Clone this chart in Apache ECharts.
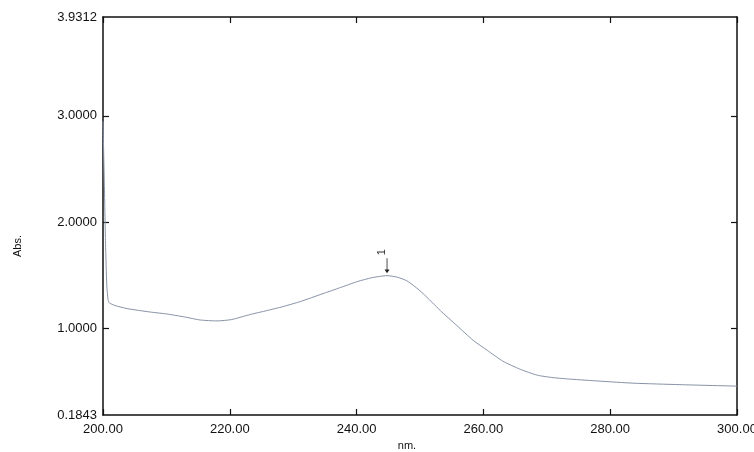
<!DOCTYPE html>
<html>
<head>
<meta charset="utf-8">
<script src="https://cdn.jsdelivr.net/npm/echarts@6/dist/echarts.min.js"></script>
<style>html,body{margin:0;padding:0;background:#fff}#c{width:754px;height:452px}</style>
</head>
<body>
<div id="c"></div>
<script>
const wavelengths = [200.0,200.2,200.4,200.6,200.8,201.0,201.9,203.8,207.4,210.1,212.9,215.3,218.0,220.3,223.2,225.9,228.4,231.1,234.7,237.4,240.1,242.4,244.8,246.4,247.9,249.2,250.5,253.2,255.8,258.4,260.6,263.1,265.8,268.5,271.0,273.7,278.4,283.6,291.0,300.0];
const absorbance = [2.95,2.40,1.80,1.40,1.27,1.24,1.215,1.186,1.154,1.135,1.107,1.079,1.070,1.083,1.130,1.168,1.205,1.252,1.327,1.383,1.440,1.477,1.496,1.482,1.449,1.393,1.327,1.168,1.027,0.887,0.793,0.690,0.615,0.559,0.536,0.522,0.503,0.484,0.470,0.456];
const yTickLabels = [0.1843, 1.0, 2.0, 3.0, 3.9312];
const yTicks = [1.0, 2.0, 3.0];
const peakLabel = '1';
const peakIndex = 22;

const chart = echarts.init(document.getElementById('c'));
const font = 'Liberation Sans, Arial, sans-serif';
const axisLine = {show: true, onZero: false, lineStyle: {color: '#111', width: 1.5}};
chart.setOption({
  animation: false,
  backgroundColor: '#fff',
  grid: {left: 103, right: 17, top: 17, bottom: 37, containLabel: false, outerBoundsMode: 'none'},
  xAxis: [{
    type: 'value', min: 200, max: 300, interval: 20,
    axisLine: axisLine,
    axisTick: {show: true, inside: true, length: 6, lineStyle: {color: '#111', width: 1.2}},
    axisLabel: {color: '#111', fontSize: 13, fontFamily: font, margin: 8, formatter: v => v.toFixed(2)},
    splitLine: {show: false},
    name: 'nm.', nameLocation: 'middle', nameGap: 25,
    nameTextStyle: {color: '#111', fontSize: 11, fontFamily: font, padding: [0, 26, 0, 0]}
  }, {
    type: 'value', position: 'top', min: 200, max: 300, interval: 20,
    axisLine: axisLine,
    axisTick: {show: true, inside: true, length: 6, lineStyle: {color: '#111', width: 1.2}},
    axisLabel: {show: false}, splitLine: {show: false}
  }],
  yAxis: [{
    type: 'value', min: 0.1843, max: 3.9312,
    axisLine: axisLine,
    axisTick: {show: true, inside: true, length: 6, customValues: yTicks, lineStyle: {color: '#111', width: 1.2}},
    axisLabel: {color: '#111', fontSize: 13, fontFamily: font, margin: 6, customValues: yTickLabels, formatter: v => v.toFixed(4)},
    splitLine: {show: false},
    name: 'Abs.', nameLocation: 'middle', nameGap: 80,
    nameTextStyle: {color: '#111', fontSize: 11, fontFamily: font, padding: [0, 60, 0, 0]}
  }, {
    type: 'value', position: 'right', min: 0.1843, max: 3.9312,
    axisLine: axisLine,
    axisTick: {show: true, inside: true, length: 6, customValues: yTicks, lineStyle: {color: '#111', width: 1.2}},
    axisLabel: {show: false}, splitLine: {show: false}
  }],
  series: [{
    type: 'line',
    data: wavelengths.map((w, i) => [w, absorbance[i]]),
    showSymbol: false,
    smooth: 0.2,
    lineStyle: {color: '#8793a6', width: 1},
    markPoint: {
      silent: true,
      data: [{
        coord: [wavelengths[peakIndex], absorbance[peakIndex]],
        symbol: 'path://M0.42,0 L0.58,0 L0.58,7.5 L1,7.5 L0.5,10 L0,7.5 L0.42,7.5 Z',
        symbolSize: [5, 15],
        symbolKeepAspect: false,
        symbolOffset: [0, -10],
        itemStyle: {color: '#222'},
        label: {show: true, formatter: peakLabel, position: 'top', distance: 6, rotate: 90, color: '#333', fontSize: 11, fontFamily: font}
      }]
    }
  }]
});
</script>
</body>
</html>
